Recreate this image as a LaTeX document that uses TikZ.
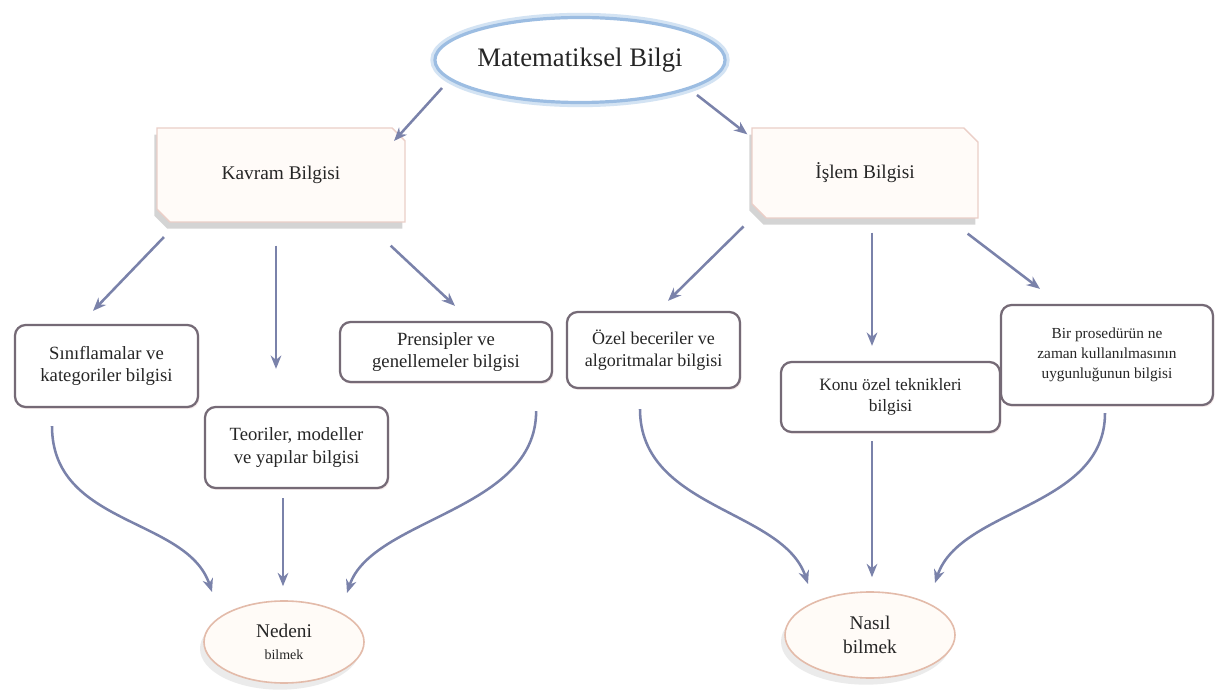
\documentclass[tikz,border=0pt]{standalone}
\usepackage{fontspec}
\setmainfont{Liberation Serif}
\usetikzlibrary{arrows.meta,shapes.geometric,shapes.misc,shadows}
\definecolor{arrc}{HTML}{7A82AA}
\definecolor{boxb}{HTML}{756A76}
\definecolor{snipb}{HTML}{EBCFC8}
\definecolor{snipf}{HTML}{FFFBF8}
\definecolor{ellb}{HTML}{E3BBAA}
\definecolor{ellf}{HTML}{FFFBF7}
\definecolor{glowa}{HTML}{D3E3F3}
\definecolor{glowb}{HTML}{9CBDE2}
\definecolor{txt}{HTML}{262626}
\tikzset{
  arr/.style={draw=arrc, line width=1.9pt, -{Stealth[length=10pt,width=8pt]}},
  snipbox/.style={chamfered rectangle, chamfered rectangle corners={north east,south west},
    chamfered rectangle xsep=8pt, draw=snipb, fill=snipf, line width=1pt, inner sep=0pt,
    drop shadow={shadow xshift=-2pt, shadow yshift=-5pt, opacity=0.3, fill=black!55},
    text=txt, font=\fontsize{14.5}{17}\selectfont},
  rbox/.style={rectangle, rounded corners=8pt, draw=boxb, fill=white, line width=1.7pt,
    inner sep=0pt, align=center, text=txt, font=\fontsize{14}{17}\selectfont,
    drop shadow={shadow xshift=1pt, shadow yshift=-1.5pt, opacity=0.25, fill=pink!70!gray}},
  lowell/.style={ellipse, draw=ellb, fill=ellf, line width=1.2pt, inner sep=0pt, align=center,
    text=txt, drop shadow={shadow xshift=-3pt, shadow yshift=-5pt, opacity=0.13, fill=black!60}},
}
\begin{document}
\begin{tikzpicture}[x=0.75pt,y=-0.75pt]
\useasboundingbox[fill=white] (0,0) rectangle (1218,698);

% top ellipse with glow
\draw[glowa, line width=7pt] (580,60) ellipse [x radius=145, y radius=42.5];
\node[ellipse, draw=glowb, fill=white, line width=2.4pt, minimum width=217.5pt, minimum height=63.75pt,
  inner sep=0pt, text=txt, font=\fontsize{20}{24}\selectfont] (top) at (580,60) {Matematiksel Bilgi};

\node[snipbox, minimum width=186pt, minimum height=70.5pt] (kav) at (281,175) {Kavram Bilgisi};
\node[snipbox, minimum width=169.5pt, minimum height=67.5pt] (isl) at (865,173) {İşlem Bilgisi};

\node[rbox, minimum width=137.25pt, minimum height=61.5pt] (sin) at (106.5,366) {Sınıflamalar ve\\kategoriler bilgisi};
\node[rbox, minimum width=137.25pt, minimum height=60.75pt] (teo) at (296.5,447.5) {Teoriler, modeller\\ve yapılar bilgisi};
\node[rbox, minimum width=159pt, minimum height=45pt] (pre) at (446,352) {Prensipler ve\\genellemeler bilgisi};
\node[rbox, minimum width=129.75pt, minimum height=57pt, font=\fontsize{13.5}{16.5}\selectfont] (oze) at (653.5,350) {Özel beceriler ve\\algoritmalar bilgisi};
\node[rbox, minimum width=164.25pt, minimum height=52.5pt, font=\fontsize{13}{16}\selectfont] (kon) at (890.5,397) {Konu özel teknikleri\\bilgisi};
\node[rbox, minimum width=159pt, minimum height=75pt, font=\fontsize{11.5}{15}\selectfont] (bir) at (1107,355) {Bir prosedürün ne\\zaman kullanılmasının\\uygunluğunun bilgisi};

\node[lowell, minimum width=120pt, minimum height=61.5pt] (ned) at (284,642) {{\fontsize{14.5}{16}\selectfont Nedeni}\\[5pt]{\fontsize{10.5}{13}\selectfont bilmek}};
\node[lowell, minimum width=127.5pt, minimum height=64.5pt, font=\fontsize{14.5}{18}\selectfont] (nas) at (870,635) {Nasıl\\bilmek};

% straight arrows
\draw[arr] ([shift={(-138,28)}]top.center) -- ([shift={(-5,7)}]kav.north east);
\draw[arr] ([shift={(117,35)}]top.center) -- ([shift={(-4,7)}]isl.north west);
\draw[arr] ([shift={(1,21)}]kav.south west) -- ([shift={(-13.5,-13)}]sin.north);
\draw[arr] ([shift={(-5,23)}]kav.south) -- ([shift={(-20.5,-37)}]teo.north);
\draw[arr] ([shift={(-15,23)}]kav.south east) -- ([shift={(9,-15)}]pre.north);
\draw[arr] ([shift={(-15,15)}]isl.south west) -- ([shift={(14.5,-10)}]oze.north);
\draw[arr] ([shift={(7,14)}]isl.south) -- ([shift={(-18.5,-15)}]kon.north);
\draw[arr] ([shift={(-11,15)}]isl.south east) -- ([shift={(-67,-15)}]bir.north);

% to Nedeni bilmek
\draw[arr] ([shift={(-54.5,18)}]sin.south) .. controls +(0,100) and +(-25,-75) .. ([shift={(-72,-50)}]ned.center);
\draw[arr] ([shift={(-13.5,9)}]teo.south) -- ([shift={(-1,-14)}]ned.north);
\draw[arr] ([shift={(-17,28)}]pre.south east) .. controls +(0,100) and +(25,-75) .. ([shift={(63,-49)}]ned.center);

% to Nasil bilmek
\draw[arr] ([shift={(-13.5,20)}]oze.south) .. controls +(0,100) and +(-25,-75) .. ([shift={(-62,-51)}]nas.center);
\draw[arr] ([shift={(-18.5,8)}]kon.south) -- ([shift={(2,-14)}]nas.north);
\draw[arr] ([shift={(-2,7)}]bir.south) .. controls +(0,95) and +(25,-75) .. ([shift={(65,-52)}]nas.center);
\end{tikzpicture}
\end{document}
